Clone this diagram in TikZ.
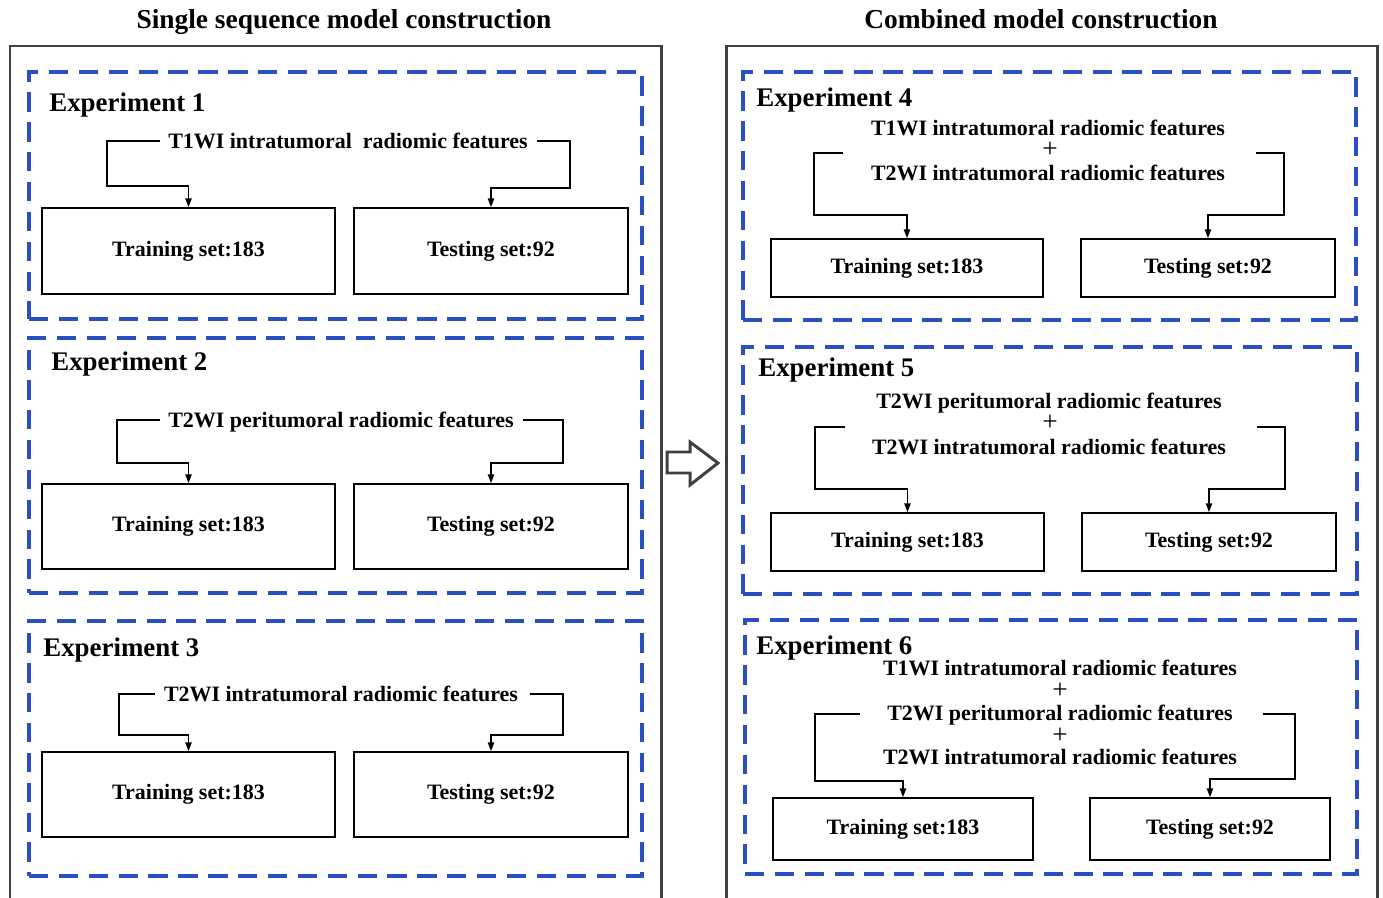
\documentclass[tikz,border=0pt]{standalone}
\usepackage{fontspec}
\setmainfont{Liberation Serif}
\usetikzlibrary{arrows.meta,fit}
\definecolor{dashblue}{RGB}{40,80,195}
\definecolor{outergray}{RGB}{64,64,64}
\tikzset{
  outerbox/.style={draw=outergray,line width=1.7pt},
  expbox/.style={draw=dashblue,line width=1.9pt,dash pattern=on 11pt off 6pt},
  setbox/.style={draw=black,line width=1pt,inner sep=0pt,font=\fontsize{12.5}{14}\selectfont\bfseries},
  feat/.style={inner sep=0pt,anchor=base,font=\fontsize{12.5}{14}\selectfont\bfseries},
  plus/.style={inner sep=0pt,anchor=base,text height=7pt,text depth=0pt,font=\fontsize{15.5}{16}\selectfont},
  explabel/.style={inner sep=0pt,anchor=base west,font=\fontsize{15.3}{17}\selectfont\bfseries},
  title/.style={inner sep=0pt,anchor=base,font=\fontsize{15.6}{18}\selectfont\bfseries},
  conn/.style={draw=black,line width=0.8pt,-{Triangle[length=5pt,width=3.6pt]}},
  hollow/.style={draw=outergray,line width=1.7pt,line join=miter}
}
\begin{document}
\begin{tikzpicture}[x=0.02cm,y=-0.02cm]
\useasboundingbox (0,0) rectangle (1383,898);
\fill[white] (0,0) rectangle (1383,898);
% titles
\node[title] (tl) at (344,29) {Single sequence model construction};
\node[title] (tr) at (1041,29) {Combined model construction};
% outer boxes
\draw[outerbox] (10,920) -- (10,46) -- (661,46) -- (661,920);
\draw[outerbox] (726,920) -- (726,46) -- (1377,46) -- (1377,920);
% hollow arrow
\draw[hollow] (667,452) -- (690,452) -- (690,442) -- (718,463) -- (690,485) -- (690,473) -- (667,473) -- cycle;

% ---------- Experiment 1 ----------
\node[expbox,fit={(29,72) (642,319)},inner sep=0pt] (e1) {};
\node[explabel] (x1) at (49,112) {Experiment 1};
\node[feat] (f1) at (348,148.3) {T1WI intratumoral\ \ radiomic features};
\node[setbox,minimum width=5.86cm,minimum height=1.72cm] (tr1) at (188.5,251) {Training set:183};
\node[setbox,minimum width=5.48cm,minimum height=1.72cm] (ts1) at (491,251) {Testing set:92};
\coordinate (a1) at (160,141); \coordinate (b1) at (107,186);
\coordinate (c1) at (537,141); \coordinate (d1) at (570,188);
\draw[conn] (a1) -| (b1) -| (tr1.north);
\draw[conn] (c1) -| (d1) -| (ts1.north);

% ---------- Experiment 2 ----------
\node[expbox,fit={(29,338) (642,593)},inner sep=0pt] (e2) {};
\node[explabel] (x2) at (51,371) {Experiment 2};
\node[feat] (f2) at (341,427.3) {T2WI peritumoral radiomic features};
\node[setbox,minimum width=5.86cm,minimum height=1.70cm] (tr2) at (188.5,526.5) {Training set:183};
\node[setbox,minimum width=5.48cm,minimum height=1.70cm] (ts2) at (491,526.5) {Testing set:92};
\coordinate (a2) at (160,420); \coordinate (b2) at (117,463);
\coordinate (c2) at (523,420); \coordinate (d2) at (563,463);
\draw[conn] (a2) -| (b2) -| (tr2.north);
\draw[conn] (c2) -| (d2) -| (ts2.north);

% ---------- Experiment 3 ----------
\node[expbox,fit={(29,621) (642,876)},inner sep=0pt] (e3) {};
\node[explabel] (x3) at (43,656) {Experiment 3};
\node[feat] (f3) at (341,701.3) {T2WI intratumoral radiomic features};
\node[setbox,minimum width=5.86cm,minimum height=1.70cm] (tr3) at (188.5,794.5) {Training set:183};
\node[setbox,minimum width=5.48cm,minimum height=1.70cm] (ts3) at (491,794.5) {Testing set:92};
\coordinate (a3) at (155,694); \coordinate (b3) at (119,735);
\coordinate (c3) at (530,694); \coordinate (d3) at (563,735);
\draw[conn] (a3) -| (b3) -| (tr3.north);
\draw[conn] (c3) -| (d3) -| (ts3.north);

% ---------- Experiment 4 ----------
\node[expbox,fit={(743,72) (1356,320)},inner sep=0pt] (e4) {};
\node[explabel] (x4) at (756,107) {Experiment 4};
\node[feat] (f4a) at (1048,135.3) {T1WI intratumoral radiomic features};
\node[plus] (p4) at (1050,158) {+};
\node[feat] (f4b) at (1048,180.3) {T2WI intratumoral radiomic features};
\node[setbox,minimum width=5.44cm,minimum height=1.16cm] (tr4) at (907,268) {Training set:183};
\node[setbox,minimum width=5.08cm,minimum height=1.16cm] (ts4) at (1208,268) {Testing set:92};
\coordinate (a4) at (843,153); \coordinate (b4) at (814,215);
\coordinate (c4) at (1256,153); \coordinate (d4) at (1284,215);
\draw[conn] (a4) -| (b4) -| (tr4.north);
\draw[conn] (c4) -| (d4) -| (ts4.north);

% ---------- Experiment 5 ----------
\node[expbox,fit={(743,347) (1357,594)},inner sep=0pt] (e5) {};
\node[explabel] (x5) at (758,377) {Experiment 5};
\node[feat] (f5a) at (1049,408.3) {T2WI peritumoral radiomic features};
\node[plus] (p5) at (1050,431) {+};
\node[feat] (f5b) at (1049,454.3) {T2WI intratumoral radiomic features};
\node[setbox,minimum width=5.46cm,minimum height=1.16cm] (tr5) at (907.5,542) {Training set:183};
\node[setbox,minimum width=5.08cm,minimum height=1.16cm] (ts5) at (1209,542) {Testing set:92};
\coordinate (a5) at (845,427); \coordinate (b5) at (815,489);
\coordinate (c5) at (1257,427); \coordinate (d5) at (1285,489);
\draw[conn] (a5) -| (b5) -| (tr5.north);
\draw[conn] (c5) -| (d5) -| (ts5.north);

% ---------- Experiment 6 ----------
\node[expbox,fit={(745,620) (1357,874)},inner sep=0pt] (e6) {};
\node[explabel] (x6) at (756,654) {Experiment 6};
\node[feat] (f6a) at (1060,675.3) {T1WI intratumoral radiomic features};
\node[plus] (p6a) at (1060,698) {+};
\node[feat] (f6b) at (1060,720.3) {T2WI peritumoral radiomic features};
\node[plus] (p6b) at (1060,743) {+};
\node[feat] (f6c) at (1060,764.3) {T2WI intratumoral radiomic features};
\node[setbox,minimum width=5.2cm,minimum height=1.24cm] (tr6) at (903,829) {Training set:183};
\node[setbox,minimum width=4.8cm,minimum height=1.24cm] (ts6) at (1210,829) {Testing set:92};
\coordinate (a6) at (860,714); \coordinate (b6) at (815,781);
\coordinate (c6) at (1263,714); \coordinate (d6) at (1295,779);
\draw[conn] (a6) -| (b6) -| (tr6.north);
\draw[conn] (c6) -| (d6) -| (ts6.north);
\end{tikzpicture}
\end{document}
